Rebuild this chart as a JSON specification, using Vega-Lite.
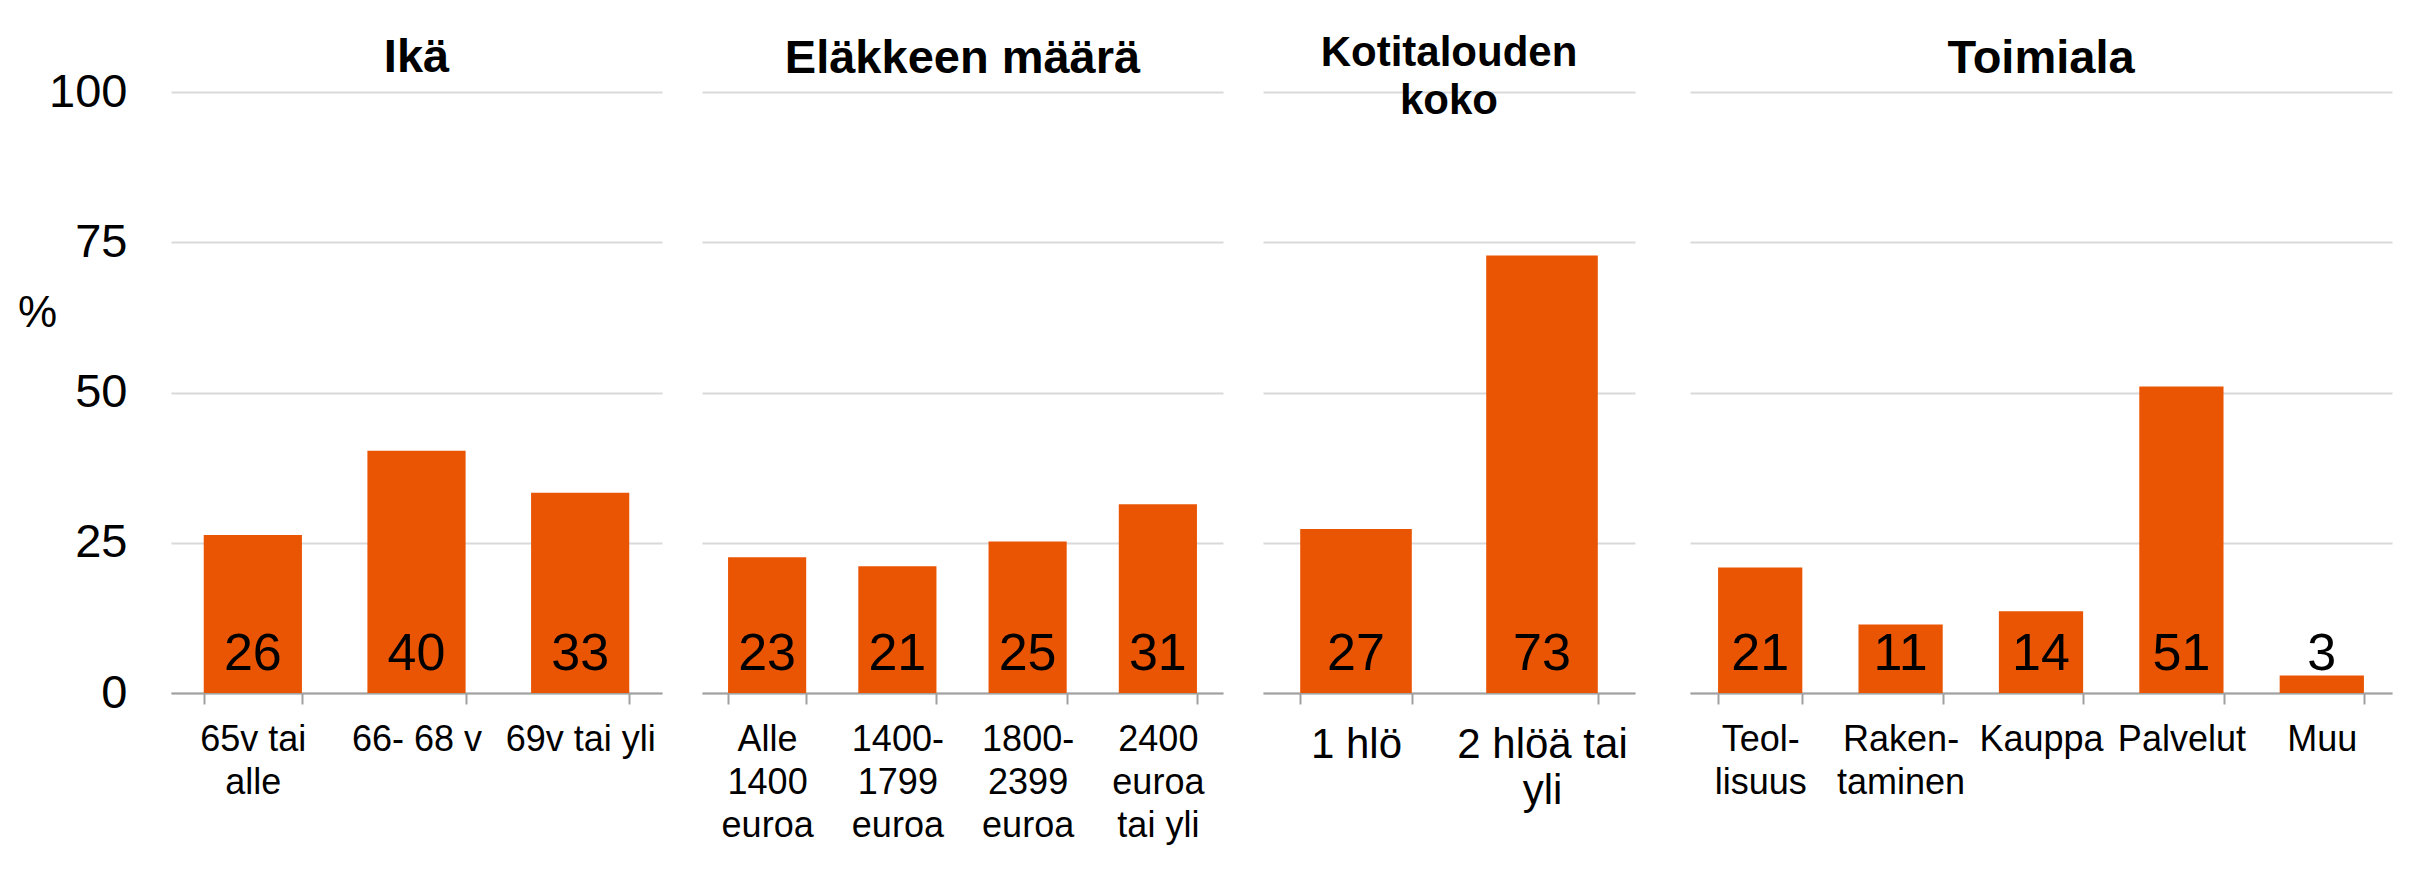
{
  "$schema": "https://vega.github.io/schema/vega-lite/v6.json",
  "background": "white",
  "padding": {"left": 17, "top": 32, "right": 5, "bottom": 5},
  "config": {
    "font": "Liberation Sans",
    "view": {"stroke": null},
    "axis": {"labelColor": "black", "titleColor": "black"}
  },
  "datasets": {
    "d": [
      {"g": "ika", "cat": "65v tai\nalle", "v": 26.3},
      {"g": "ika", "cat": "66- 68 v", "v": 40.3},
      {"g": "ika", "cat": "69v tai yli", "v": 33.3},
      {"g": "elake", "cat": "Alle\n1400\neuroa", "v": 22.6},
      {"g": "elake", "cat": "1400-\n1799\neuroa", "v": 21.1},
      {"g": "elake", "cat": "1800-\n2399\neuroa", "v": 25.2},
      {"g": "elake", "cat": "2400\neuroa\ntai yli", "v": 31.4},
      {"g": "koko", "cat": "1 hlö", "v": 27.3},
      {"g": "koko", "cat": "2 hlöä tai\nyli", "v": 72.8},
      {"g": "toimiala", "cat": "Teol-\nlisuus", "v": 20.9},
      {"g": "toimiala", "cat": "Raken-\ntaminen", "v": 11.4},
      {"g": "toimiala", "cat": "Kauppa", "v": 13.6},
      {"g": "toimiala", "cat": "Palvelut", "v": 51.0},
      {"g": "toimiala", "cat": "Muu", "v": 2.9}
    ]
  },
  "bounds": "full",
  "spacing": 55,
  "hconcat": [
    {
      "bounds": "flush",
      "spacing": 40,
      "hconcat": [
        {
          "width": 491,
          "height": 601,
          "title": {"text": "Ikä", "fontSize": 47, "fontWeight": "bold", "baseline": "alphabetic", "offset": -51, "anchor": "middle", "color": "black"},
          "data": {"name": "d"},
          "transform": [{"filter": "datum.g === 'ika'"}],
          "encoding": {
            "x": {"field": "cat", "type": "nominal", "sort": null,
              "scale": {"paddingInner": 0.4, "paddingOuter": 0.2},
              "axis": {"title": null, "labelAngle": 0, "labelFontSize": 36, "labelLineHeight": 43, "labelBaseline": "alphabetic", "labelPadding": 46, "tickSize": 11, "tickWidth": 2, "tickColor": "#A0A0A0", "domainColor": "#A0A0A0", "domainWidth": 2, "tickBand": "extent", "labelExpr": "split(datum.label, '\\n')", "labelLimit": 0, "labelOverlap": false, "grid": false}}
          },
          "layer": [
            {"mark": {"type": "bar", "color": "#EA5504"},
             "encoding": {"y": {"field": "v", "type": "quantitative", "scale": {"domain": [0, 100]},
               "axis": {"values": [0, 25, 50, 75, 100], "grid": true, "gridColor": "#D9D9D9", "gridWidth": 2, "domain": false, "ticks": false, "labelFontSize": 47, "labelPadding": 44, "title": "%", "titleAngle": 0, "titleFontSize": 44, "titleFontWeight": "normal", "titleX": -134, "titleY": 221, "titleAlign": "center", "titleBaseline": "middle"}}}},
            {"mark": {"type": "text", "baseline": "alphabetic", "dy": -23, "fontSize": 52, "color": "black"},
             "encoding": {"y": {"datum": 0, "type": "quantitative"}, "text": {"field": "v", "format": ".0f"}}}
          ]
        },
        {
          "width": 521,
          "height": 601,
          "title": {"text": "Eläkkeen määrä", "fontSize": 47, "fontWeight": "bold", "baseline": "alphabetic", "offset": -28, "anchor": "middle", "color": "black"},
          "data": {"name": "d"},
          "transform": [{"filter": "datum.g === 'elake'"}],
          "encoding": {
            "x": {"field": "cat", "type": "nominal", "sort": null,
              "scale": {"paddingInner": 0.4, "paddingOuter": 0.2},
              "axis": {"title": null, "labelAngle": 0, "labelFontSize": 36, "labelLineHeight": 43, "labelBaseline": "alphabetic", "labelPadding": 46, "tickSize": 11, "tickWidth": 2, "tickColor": "#A0A0A0", "domainColor": "#A0A0A0", "domainWidth": 2, "tickBand": "extent", "labelExpr": "split(datum.label, '\\n')", "labelLimit": 0, "labelOverlap": false, "grid": false}}
          },
          "layer": [
            {"mark": {"type": "bar", "color": "#EA5504"},
             "encoding": {"y": {"field": "v", "type": "quantitative", "scale": {"domain": [0, 100]},
               "axis": {"values": [0, 25, 50, 75, 100], "grid": true, "gridColor": "#D9D9D9", "gridWidth": 2, "domain": false, "ticks": false, "labels": false, "title": null}}}},
            {"mark": {"type": "text", "baseline": "alphabetic", "dy": -23, "fontSize": 52, "color": "black"},
             "encoding": {"y": {"datum": 0, "type": "quantitative"}, "text": {"field": "v", "format": ".0f"}}}
          ]
        },
        {
          "width": 372,
          "height": 601,
          "title": {"text": ["Kotitalouden", "koko"], "fontSize": 42, "lineHeight": 48, "fontWeight": "bold", "baseline": "alphabetic", "offset": -64, "anchor": "middle", "color": "black"},
          "data": {"name": "d"},
          "transform": [{"filter": "datum.g === 'koko'"}],
          "encoding": {
            "x": {"field": "cat", "type": "nominal", "sort": null,
              "scale": {"paddingInner": 0.4, "paddingOuter": 0.2},
              "axis": {"title": null, "labelAngle": 0, "labelFontSize": 42, "labelLineHeight": 46, "labelBaseline": "alphabetic", "labelPadding": 53, "tickSize": 11, "tickWidth": 2, "tickColor": "#A0A0A0", "domainColor": "#A0A0A0", "domainWidth": 2, "tickBand": "extent", "labelExpr": "split(datum.label, '\\n')", "labelLimit": 0, "labelOverlap": false, "grid": false}}
          },
          "layer": [
            {"mark": {"type": "bar", "color": "#EA5504"},
             "encoding": {"y": {"field": "v", "type": "quantitative", "scale": {"domain": [0, 100]},
               "axis": {"values": [0, 25, 50, 75, 100], "grid": true, "gridColor": "#D9D9D9", "gridWidth": 2, "domain": false, "ticks": false, "labels": false, "title": null}}}},
            {"mark": {"type": "text", "baseline": "alphabetic", "dy": -23, "fontSize": 52, "color": "black"},
             "encoding": {"y": {"datum": 0, "type": "quantitative"}, "text": {"field": "v", "format": ".0f"}}}
          ]
        }
      ]
    },
    {
      "width": 702,
      "height": 601,
      "title": {"text": "Toimiala", "fontSize": 47, "fontWeight": "bold", "baseline": "alphabetic", "offset": -28, "anchor": "middle", "color": "black"},
      "data": {"name": "d"},
      "transform": [{"filter": "datum.g === 'toimiala'"}],
      "encoding": {
        "x": {"field": "cat", "type": "nominal", "sort": null,
          "scale": {"paddingInner": 0.4, "paddingOuter": 0.2},
          "axis": {"title": null, "labelAngle": 0, "labelFontSize": 36, "labelLineHeight": 43, "labelBaseline": "alphabetic", "labelPadding": 46, "tickSize": 11, "tickWidth": 2, "tickColor": "#A0A0A0", "domainColor": "#A0A0A0", "domainWidth": 2, "tickBand": "extent", "labelExpr": "split(datum.label, '\\n')", "labelLimit": 0, "labelOverlap": false, "grid": false}}
      },
      "layer": [
        {"mark": {"type": "bar", "color": "#EA5504"},
         "encoding": {"y": {"field": "v", "type": "quantitative", "scale": {"domain": [0, 100]},
           "axis": {"values": [0, 25, 50, 75, 100], "grid": true, "gridColor": "#D9D9D9", "gridWidth": 2, "domain": false, "ticks": false, "labels": false, "title": null}}}},
        {"mark": {"type": "text", "baseline": "alphabetic", "dy": -23, "fontSize": 52, "color": "black"},
         "encoding": {"y": {"datum": 0, "type": "quantitative"}, "text": {"field": "v", "format": ".0f"}}}
      ]
    }
  ]
}
